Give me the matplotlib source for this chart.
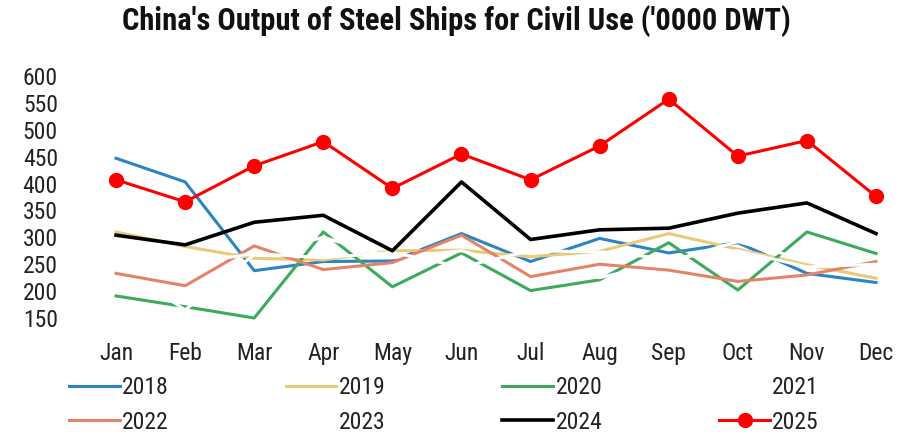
import matplotlib
matplotlib.use("Agg")
import matplotlib.pyplot as plt
from matplotlib import font_manager

MONTHS = ["Jan", "Feb", "Mar", "Apr", "May", "Jun",
          "Jul", "Aug", "Sep", "Oct", "Nov", "Dec"]

# monthly output, '0000 DWT
Y2018 = [447, 403, 238, 255, 256, 307, 255, 298, 271, 290, 233, 216]
Y2019 = [310, 283, 261, 258, 275, 276, 264, 274, 307, 278, 249, 224]
Y2020 = [191, 171, 150, 310, 208, 271, 201, 221, 290, 202, 310, 270]
Y2021 = [250, 165, 268, 300, 262, 275, 240, 225, 255, 292, 258, 240]
Y2022 = [233, 210, 284, 240, 253, 304, 227, 250, 239, 218, 230, 255]
Y2023 = [280, 250, 270, 262, 272, 245, 275, 273, 260, 275, 245, 250]
Y2024 = [304, 286, 328, 341, 275, 403, 296, 314, 317, 345, 364, 307]
Y2025 = [407, 366, 433, 478, 391, 455, 407, 470, 557, 451, 480, 376]

YEARS = ["2018", "2019", "2020", "2021", "2022", "2023", "2024", "2025"]
SERIES = [Y2018, Y2019, Y2020, Y2021, Y2022, Y2023, Y2024, Y2025]
COLORS = ["#2a85c0", "#e9c97a", "#3daa5c", "white",
          "#e3836a", "white", "black", "#ff0000"]

# pick a narrow face if one is around
installed = {f.name for f in font_manager.fontManager.ttflist}
family = "DejaVu Sans"
for name in ["Roboto Condensed", "Liberation Sans Narrow", "Roboto"]:
    if name in installed:
        family = name
        break
plt.rcParams["font.family"] = [family, "DejaVu Sans"]

fig = plt.figure(figsize=(9.19, 4.37), dpi=100)
ax = fig.add_axes([0.0887, 0.2723, 0.9021, 0.5538])

x = list(range(len(MONTHS)))
lines = {}
for year, vals, col in zip(YEARS, SERIES, COLORS):
    if year == "2025":
        ln, = ax.plot(x, vals, color=col, lw=2.2, marker="o", ms=10,
                      label=year, clip_on=False, zorder=5)
    elif year == "2024":
        ln, = ax.plot(x, vals, color=col, lw=2.6, label=year,
                      clip_on=False, zorder=4)
    else:
        ln, = ax.plot(x, vals, color=col, lw=2.2, label=year, clip_on=False)
    lines[year] = ln

ax.set_xlim(-0.5, 11.5)
ax.set_ylim(150, 600)
ax.set_yticks(range(150, 601, 50))
ax.set_xticks(x)
ax.set_xticklabels(MONTHS)
ax.tick_params(axis="both", length=0, labelsize=17, colors="#222222")
ax.tick_params(axis="y", pad=17)
ax.tick_params(axis="x", pad=17)
for s in ax.spines.values():
    s.set_visible(False)

fig.text(0.497, 1 - 21 / 437, "China's Output of Steel Ships for Civil Use ('0000 DWT)",
         ha="center", va="center", fontsize=22, fontweight="bold", color="#111111")

# legend fills column by column, so feed it in that order to read across rows
order = ["2018", "2022", "2019", "2023", "2020", "2024", "2021", "2025"]
leg = fig.legend([lines[k] for k in order], order,
                 loc="upper left", bbox_to_anchor=(0.075, 0.140), ncol=4,
                 frameon=False, fontsize=17, handlelength=2.15, handletextpad=0.1,
                 columnspacing=4.95, labelspacing=0.5, borderaxespad=0,
                 borderpad=0)
for t in leg.get_texts():
    t.set_color("#222222")

fig.savefig("out.png", dpi=100)
